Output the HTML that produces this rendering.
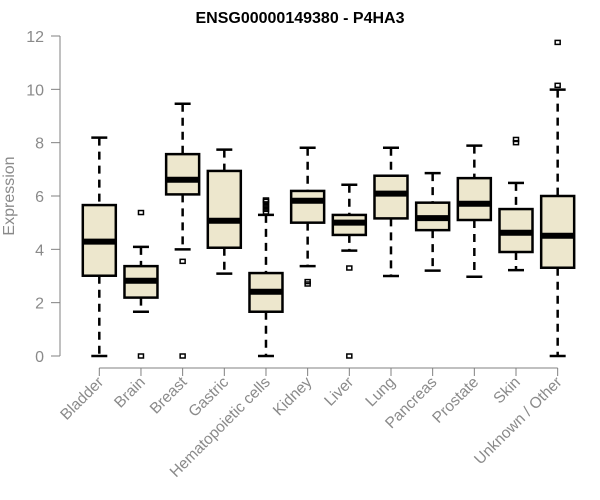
<!DOCTYPE html>
<html><head><meta charset="utf-8"><style>
body{margin:0;background:#fff;}
svg{display:block;font-family:"Liberation Sans",Arial,sans-serif;}
</style></head><body>
<svg id="chart" width="600" height="500" xmlns="http://www.w3.org/2000/svg">
<text x="300" y="23" text-anchor="middle" font-weight="bold" font-size="16">ENSG00000149380 - P4HA3</text>
<text transform="translate(14,196) rotate(-90)" text-anchor="middle" font-size="16" fill="#8a8a8a">Expression</text>
<g id="axes"></g><g id="boxes"></g>
</svg>
<script>
const categories=["Bladder","Brain","Breast","Gastric","Hematopoietic cells","Kidney","Liver","Lung","Pancreas","Prostate","Skin","Unknown / Other"];
const whiskerLow=[0,1.66,4.0,3.09,0,3.37,3.95,3.0,3.2,2.97,3.22,0];
const q1=[3.01,2.19,6.06,4.06,1.66,5.0,4.54,5.16,4.72,5.1,3.9,3.31];
const median=[4.29,2.82,6.61,5.07,2.41,5.82,5.0,6.09,5.17,5.71,4.62,4.51];
const q3=[5.66,3.37,7.57,6.94,3.11,6.19,5.29,6.76,5.75,6.67,5.51,6.0];
const whiskerHigh=[8.19,4.09,9.46,7.74,5.29,7.81,6.42,7.81,6.86,7.89,6.49,9.99];
const outliers=[[],[5.38,0],[3.55,0],[],[5.4,5.5,5.6,5.7,5.8,5.85],[2.79,2.7],[3.3,0],[],[],[],[8.12,8.0],[11.76,10.15]];
const yTicks=[0,2,4,6,8,10,12];
const NS="http://www.w3.org/2000/svg";
const y=v=>356-v*(320/12);
const x=i=>99.3+i*41.67;
function mk(tag,attrs,parent){const e=document.createElementNS(NS,tag);for(const k in attrs)e.setAttribute(k,attrs[k]);parent.appendChild(e);return e;}
const axes=document.getElementById('axes'),boxes=document.getElementById('boxes');
let ya=mk('line',{x1:60,x2:60,y1:y(0),y2:y(12),stroke:'#808080'},axes);


yTicks.forEach(t=>{
 let l=mk('line',{x1:51,x2:60,y1:y(t),y2:y(t),stroke:'#808080'},axes);
 
 
 let tx=mk('text',{x:44,y:y(t)+6,'text-anchor':'end','font-size':16,fill:'#8a8a8a'},axes);tx.textContent=t;
 
 
});
let xa=mk('line',{x1:x(0),x2:x(categories.length-1),y1:368,y2:368,stroke:'#808080'},axes);


categories.forEach((c,i)=>{
 let l=mk('line',{x1:x(i),x2:x(i),y1:368,y2:376,stroke:'#808080'},axes);
 
 
 let tx=mk('text',{transform:`translate(${x(i)+5},${383}) rotate(-45)`,'text-anchor':'end','font-size':15.5,fill:'#8a8a8a'},axes);tx.textContent=c;
 
 
 const g=mk('g',{},boxes);
 
 
 const cx=x(i),hw=16.5;
 mk('line',{x1:cx,x2:cx,y1:y(whiskerHigh[i]),y2:y(q3[i]),stroke:'#000','stroke-width':2.5,'stroke-dasharray':'8,6'},g);
 mk('line',{x1:cx,x2:cx,y1:y(q1[i]),y2:y(whiskerLow[i]),stroke:'#000','stroke-width':2.5,'stroke-dasharray':'8,6'},g);
 mk('line',{x1:cx-8,x2:cx+8,y1:y(whiskerHigh[i]),y2:y(whiskerHigh[i]),stroke:'#000','stroke-width':2.5},g);
 mk('line',{x1:cx-8,x2:cx+8,y1:y(whiskerLow[i]),y2:y(whiskerLow[i]),stroke:'#000','stroke-width':2.5},g);
 mk('rect',{x:cx-hw,y:y(q3[i]),width:hw*2,height:y(q1[i])-y(q3[i]),fill:'#ede7cd',stroke:'#000','stroke-width':2.5},g);
 mk('line',{x1:cx-hw,x2:cx+hw,y1:y(median[i]),y2:y(median[i]),stroke:'#000','stroke-width':6},g);
 outliers[i].forEach(o=>{
  let p=mk('rect',{x:cx-2.5,y:y(o)-2,width:5,height:4,fill:'none',stroke:'#000','stroke-width':1.5},g);
  
  
 });
});
</script>
</body></html>
